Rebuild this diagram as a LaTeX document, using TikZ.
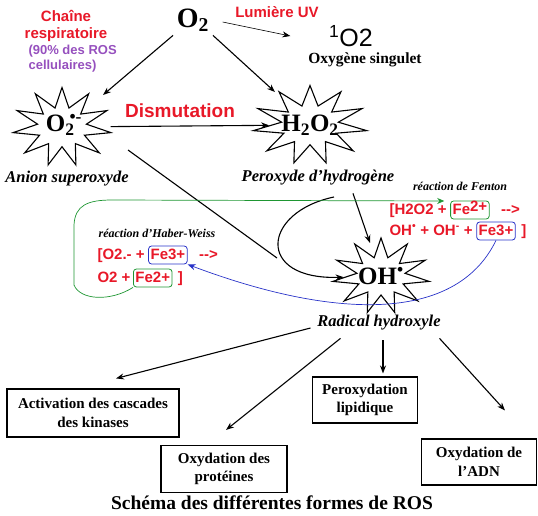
\documentclass[tikz,border=0pt]{standalone}
\usepackage{fontspec}
\setmainfont{Liberation Serif}
\setsansfont{Liberation Sans}
\usetikzlibrary{shapes.geometric,positioning,arrows.meta}
\definecolor{rosred}{RGB}{232,24,40}
\definecolor{rospurple}{RGB}{150,80,190}
\definecolor{rosgreen}{RGB}{30,150,50}
\definecolor{rosblue}{RGB}{40,50,200}
\newcommand{\lto}{-\kern0pt-\kern0pt>}
\begin{document}
\begin{tikzpicture}[x=1pt,y=-1pt,line width=1.1pt,
				arr/.style = {-{Stealth[length=8pt,width=6pt]}},
				ros star/.style = {star,star points=11,star point ratio=2,draw,fill=white,inner sep=0pt,transform shape},
				star text/.style = {font=\bfseries\fontsize{25}{25}\selectfont,inner sep=0pt},
				name label/.style = {font=\bfseries\itshape\fontsize{16.5}{18}\selectfont},
				red label/.style = {text=rosred,font=\sffamily\bfseries\fontsize{15}{17}\selectfont},
				rxn/.style = {text=rosred,font=\sffamily\bfseries\fontsize{15}{17}\selectfont,inner sep=1pt,text height=11pt,text depth=3pt},
				fe box/.style = {rxn,draw,line width=0.8pt,rounded corners=3pt,inner sep=2pt},
				rxn title/.style = {font=\bfseries\itshape\fontsize{12}{14}\selectfont},
				effect/.style = {draw,align=center,font=\bfseries\fontsize{15}{18.5}\selectfont,inner sep=0pt}]
				
				\useasboundingbox (0,0) rectangle (538,516);
				
				\node[font=\bfseries\fontsize{28}{28}\selectfont] (o2) at (193,20) {O\textsubscript{2}};
				\node[red label,align=center] (chaine) at (66,26) {Chaîne\\respiratoire};
				\node[anchor=north west,inner sep=0pt,align=left,text=rospurple,font=\sffamily\bfseries\fontsize{13}{15}\selectfont] (pct) at (28,45) {(90\% des ROS\\cellulaires)};
				\node[red label] (uv) at (277,12) {Lumière UV};
				\node[font=\sffamily\fontsize{25}{25}\selectfont] (so2) at (351,36) {\textsuperscript{1}O2};
				\node[font=\bfseries\fontsize{15.5}{17}\selectfont] (singlet) at (365,60) {Oxygène singulet};
				
				\node[ros star,minimum size=79pt,xscale=1.25] (supstar) at (62,127) {};
				\node[star text] (sup) at (64,125) {O\rlap{\textsubscript{2}}\,\textsuperscript{•-}};
				\node[name label] (suplab) at (67,179) {Anion superoxyde};
				\node[red label,font=\sffamily\bfseries\fontsize{19}{21}\selectfont] (dism) at (180,111) {Dismutation};
				\node[ros star,minimum size=79pt,xscale=1.45] (h2star) at (310,125) {};
				\node[star text] (h2o2) at (310,125) {H\textsubscript{2}O\textsubscript{2}};
				\node[name label] (h2lab) at (318,178) {Peroxyde d’hydrogène};
				\node[ros star,minimum size=76pt,xscale=1.28] (ohstar) at (381,276) {};
				\node[star text] (oh) at (381,276) {OH\textsuperscript{•}};
				\node[name label] (rad) at (379,323) {Radical hydroxyle};
				
				\node[rxn title] (fenton) at (460,186) {réaction de Fenton};
				\node[rxn,anchor=west] (fa) at (388,210) {[H2O2 +};
				\node[fe box,draw=rosgreen,right=2pt of fa] (ffe2) {Fe\raisebox{2.5pt}{2+}};
				\node[rxn,right=10pt of ffe2] (farr) {\lto};
				\node[rxn,anchor=west] (fb) at (388,231) {OH\textsuperscript{•} + OH\textsuperscript{-} +};
				\node[fe box,draw=rosblue,right=2pt of fb] (ffe3) {Fe3+};
				\node[rxn,right=4pt of ffe3] (fend) {]};
				
				\node[rxn title] (haber) at (157,233) {réaction d’Haber-Weiss};
				\node[rxn,anchor=west] (hwa) at (96,255) {[O2.- +};
				\node[fe box,draw=rosblue,right=2pt of hwa] (hwfe3) {Fe3+};
				\node[rxn,right=10pt of hwfe3] (hwarr) {\lto};
				\node[rxn,anchor=west] (hwb) at (96,278) {O2 +};
				\node[fe box,draw=rosgreen,right=1pt of hwb] (hwfe2) {Fe2+};
				\node[rxn,right=4pt of hwfe2] (hwend) {]};
				
				\node[effect,minimum width=172pt,minimum height=48pt] (act) at (93,413) {Activation des cascades\\des kinases};
				\node[effect,minimum width=105pt,minimum height=46pt] (perox) at (365,400) {Peroxydation\\lipidique};
				\node[effect,minimum width=126pt,minimum height=47pt] (prot) at (224,469) {Oxydation des\\protéines};
				\node[effect,minimum width=115pt,minimum height=46pt] (adn) at (479,462) {Oxydation de\\l’ADN};
				\node[font=\bfseries\fontsize{19.5}{20}\selectfont] (caption) at (272,503) {Schéma des différentes formes de ROS};
				
				\coordinate (join) at (277,258);
				\coordinate (h2c) at (334,197);
				
				\draw[arr] (o2.south west) -- ([xshift=41pt,yshift=32pt]supstar.center);
				\draw[arr] (o2.south east) -- ([xshift=-35pt,yshift=33pt]h2star.center);
				\draw[arr,line width=0.6pt,shorten <=10pt] (o2.east) -- ([xshift=-35pt]so2.west);
				\draw[arr,shorten <=15pt] (supstar) -- (h2star);
				\draw ([xshift=66pt,yshift=-23pt]supstar.center) -- (join);
				\draw[arr] (h2c) .. controls (262,212) and (255,280) .. (ohstar);
				\draw[arr] ([xshift=35pt,yshift=-4pt]h2lab.south) -- ([xshift=-11pt,yshift=33pt]ohstar.center);
				
				\draw[rosgreen,line width=0.7pt,-{Stealth[length=7pt,width=6pt]}] (hwfe2.south west) .. controls (110,302) and (80,300) .. (74,285) -- (74,225) .. controls (75,205) and (88,200) .. (112,200) -- ([xshift=-6pt,yshift=9pt]ffe2.west);
				\draw[rosblue,line width=0.7pt,-{Stealth[length=8pt,width=6pt]}] (ffe3.south) .. controls (455,325) and (330,318) .. (hwfe3.south east);
				
				\draw[arr] ([xshift=-3pt,yshift=-5pt]rad.west) -- ([xshift=23pt,yshift=10pt]act.north);
				\draw[arr] ([xshift=27pt,yshift=-4pt]rad.south west) -- ([xshift=2pt,yshift=15pt]prot.north);
				\draw[arr] ([xshift=4pt,yshift=-6pt]rad.south) -- ([xshift=18pt,yshift=3pt]perox.north);
				\draw[arr] ([xshift=-5pt,yshift=-4pt]rad.south east) -- ([xshift=26pt,yshift=28pt]adn.north);
\end{tikzpicture}
\end{document}
